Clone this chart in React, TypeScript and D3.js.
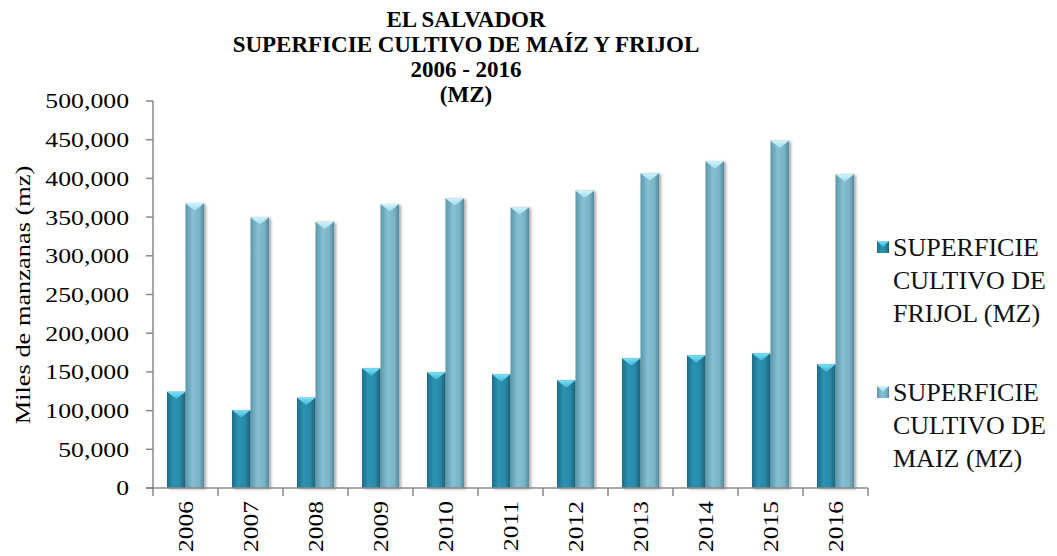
import * as d3 from 'd3';
import React from 'react';

const years = ['2006', '2007', '2008', '2009', '2010', '2011', '2012', '2013', '2014', '2015', '2016'];
const frijol = [124400, 100800, 116700, 154700, 149500, 146900, 139100, 167600, 171400, 174000, 159800];
const maiz = [367800, 349700, 344000, 366900, 374300, 362600, 384200, 406600, 422000, 448700, 405300];
const seriesNames = ['SUPERFICIE CULTIVO DE FRIJOL (MZ)', 'SUPERFICIE CULTIVO DE MAIZ (MZ)'];
const legendLines = [
  ['SUPERFICIE', 'CULTIVO DE', 'FRIJOL (MZ)'],
  ['SUPERFICIE', 'CULTIVO DE', 'MAIZ (MZ)']
];
const titleLines = ['EL SALVADOR', 'SUPERFICIE CULTIVO DE MAÍZ Y FRIJOL', '2006 - 2016', '(MZ)'];
const yTicks = [0, 50000, 100000, 150000, 200000, 250000, 300000, 350000, 400000, 450000, 500000];

const W = 1057;
const H = 556;
const left = 153;
const right = 868;
const top = 101;
const bottom = 488;
const font = "'Liberation Serif', 'Times New Roman', Times, serif";
const axisColor = '#898989';

const App = (): JSX.Element => {
  const x0 = d3.scaleBand<string>().domain(years).range([left, right]).paddingInner(0.43).paddingOuter(0.215);
  const x1 = d3.scaleBand<string>().domain(['f', 'm']).range([0, x0.bandwidth()]);
  const y = d3.scaleLinear().domain([0, 500000]).range([bottom, top]);
  const step = x0.step();
  const fmt = d3.format(',');

  const bars: { key: string; x: number; w: number; v: number; s: number }[] = [];
  years.forEach((yr, i) => {
    bars.push({ key: yr + 'f', x: x0(yr)! + x1('f')!, w: x1.bandwidth(), v: frijol[i], s: 0 });
    bars.push({ key: yr + 'm', x: x0(yr)! + x1('m')!, w: x1.bandwidth(), v: maiz[i], s: 1 });
  });

  return (
    <svg width={W} height={H} style={{ position: 'absolute', left: 0, top: 0, background: '#fff', fontFamily: font }}>
      <defs>
        <linearGradient id="g0" x1="0" x2="1" y1="0" y2="0">
          <stop offset="0" stopColor="#1d6d86" />
          <stop offset="0.35" stopColor="#2b93b3" />
          <stop offset="0.7" stopColor="#2a8aa8" />
          <stop offset="1" stopColor="#1a5f75" />
        </linearGradient>
        <linearGradient id="g1" x1="0" x2="1" y1="0" y2="0">
          <stop offset="0" stopColor="#5c97ab" />
          <stop offset="0.4" stopColor="#86c0d4" />
          <stop offset="0.75" stopColor="#7ab2c6" />
          <stop offset="1" stopColor="#55899c" />
        </linearGradient>
        <linearGradient id="c0" x1="0" x2="0" y1="0" y2="1">
          <stop offset="0" stopColor="#7be0f5" />
          <stop offset="1" stopColor="#3cb6d6" />
        </linearGradient>
        <linearGradient id="c1" x1="0" x2="0" y1="0" y2="1">
          <stop offset="0" stopColor="#d2f4fb" />
          <stop offset="1" stopColor="#9ad9ea" />
        </linearGradient>
        <filter id="sh" x="-30%" y="-5%" width="160%" height="110%">
          <feGaussianBlur in="SourceAlpha" stdDeviation="1.5" />
          <feOffset dx="2" dy="1" />
          <feComponentTransfer>
            <feFuncA type="linear" slope="0.35" />
          </feComponentTransfer>
          <feMerge>
            <feMergeNode />
            <feMergeNode in="SourceGraphic" />
          </feMerge>
        </filter>
      </defs>

      {titleLines.map((t, i) => (
        <text key={t} x={466} y={27 + i * 25} textAnchor="middle" fontWeight="bold" fontSize={23} fill="#000">
          {t}
        </text>
      ))}

      {/* bars */}
      {bars.map((b) => {
        const yt = y(b.v);
        const cap = Math.min(8, b.w * 0.4);
        return (
          <g key={b.key} filter="url(#sh)">
            <rect x={b.x} y={yt} width={b.w} height={bottom - yt} fill={`url(#g${b.s})`} />
            <path
              d={`M${b.x},${yt} L${b.x + b.w},${yt} L${b.x + b.w / 2},${yt + cap} Z`}
              fill={`url(#c${b.s})`}
            />
          </g>
        );
      })}

      {/* y axis */}
      <line x1={left} x2={left} y1={top} y2={bottom} stroke={axisColor} strokeWidth={1.5} />
      {yTicks.map((t) => (
        <g key={t}>
          <line x1={left - 7} x2={left} y1={y(t)} y2={y(t)} stroke={axisColor} strokeWidth={1.5} />
          <text
            transform={`translate(129, ${y(t)}) scale(1.17, 1)`}
            dy="0.34em"
            textAnchor="end"
            fontSize={22}
            fill="#000"
          >
            {fmt(t)}
          </text>
        </g>
      ))}
      <text
        transform={`translate(23, 295) rotate(-90) scale(1.2, 1)`}
        textAnchor="middle"
        dy="0.34em"
        fontSize={22}
        fill="#000"
      >
        Miles de manzanas (mz)
      </text>

      {/* x axis */}
      <line x1={left - 7} x2={right} y1={bottom} y2={bottom} stroke={axisColor} strokeWidth={1.5} />
      {d3.range(years.length + 1).map((i) => (
        <line key={i} x1={left + i * step} x2={left + i * step} y1={bottom} y2={bottom + 8} stroke={axisColor} strokeWidth={1.5} />
      ))}
      {years.map((yr) => (
        <text
          key={yr}
          transform={`translate(${x0(yr)! + x0.bandwidth() / 2}, 501) rotate(-90) scale(1.16, 1)`}
          textAnchor="end"
          dy="0.34em"
          fontSize={22}
          fill="#000"
        >
          {yr}
        </text>
      ))}

      {/* legend */}
      {seriesNames.map((n, i) => {
        const ly = 247 + i * 145;
        return (
          <g key={n}>
            <rect x={877} y={ly - 6} width={12} height={12} fill={`url(#g${i})`} />
            <path d={`M877,${ly - 6} L889,${ly - 6} L883,${ly} Z`} fill={`url(#c${i})`} />
            {legendLines[i].map((l, j) => (
              <text key={j} x={893} y={ly + j * 33} dy="0.34em" fontSize={26} fill="#111">
                {l}
              </text>
            ))}
          </g>
        );
      })}
    </svg>
  );
};

export default App;
